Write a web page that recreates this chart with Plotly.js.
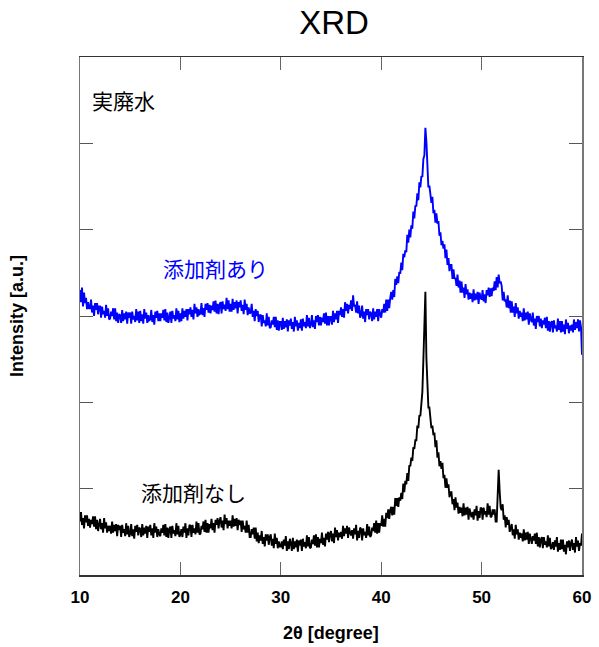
<!DOCTYPE html>
<html>
<head>
<meta charset="utf-8">
<script src="https://cdn.plot.ly/plotly-3.0.1.min.js"></script>
<style>html,body{margin:0;padding:0;background:#fff;}#chart{width:599px;height:647px;}</style>
</head>
<body>
<div id="chart"></div>
<script>
// 2θ grid: start and step (degrees)
const twoThetaStart = 10.0;
const twoThetaStep = 0.1;

// 添加剤あり (with additive), intensity [a.u.], one value per 0.1° (10.0 … 60.0)
const withAdditive = [
  3.30,3.16,3.33,3.11,3.27,3.15,3.21,3.08,3.16,3.09,
  3.09,3.19,3.04,3.12,3.00,3.15,3.07,3.15,3.02,3.11,
  3.11,2.98,3.11,3.02,3.06,2.98,3.13,3.00,3.09,2.96,
  2.97,3.05,3.00,3.09,2.96,3.09,2.94,3.04,2.92,3.02,
  3.01,2.92,3.07,2.94,3.03,2.96,3.05,2.91,3.04,2.98,
  3.04,2.91,3.05,2.96,3.00,2.93,3.08,2.95,3.05,2.92,
  3.06,2.94,3.02,2.91,3.08,2.97,3.04,2.92,3.01,2.95,
  2.96,3.07,2.93,3.01,2.90,3.05,2.98,3.06,2.94,3.03,
  2.94,3.03,2.98,3.07,2.95,3.08,2.93,3.04,2.92,3.02,
  3.05,2.92,3.06,2.97,3.01,2.94,3.09,2.96,3.06,2.93,
  3.03,2.94,3.09,2.97,3.06,2.99,3.08,2.95,3.08,3.02,
  3.10,2.99,3.07,2.96,3.14,3.03,3.10,2.99,3.08,3.02,
  3.03,3.15,3.01,3.09,2.99,3.14,3.07,3.15,3.04,3.13,
  3.03,3.12,3.07,3.17,3.05,3.18,3.03,3.14,3.02,3.13,
  3.16,3.03,3.17,3.08,3.13,3.06,3.21,3.08,3.18,3.05,
  3.14,3.05,3.20,3.07,3.16,3.09,3.18,3.03,3.16,3.10,
  3.18,3.06,3.13,3.02,3.19,3.07,3.14,3.01,3.10,3.03,
  3.04,3.14,2.99,3.06,2.94,3.08,3.00,3.06,2.93,3.01,
  3.01,2.88,3.01,2.92,2.95,2.88,3.03,2.89,2.99,2.86,
  2.87,2.95,2.90,2.99,2.87,2.99,2.84,2.95,2.83,2.93,
  2.93,2.84,2.98,2.85,2.94,2.87,2.96,2.82,2.95,2.89,
  2.97,2.85,2.93,2.82,2.99,2.88,2.95,2.83,2.92,2.86,
  2.96,2.83,2.97,2.88,2.93,2.86,3.01,2.88,2.98,2.86,
  2.90,3.01,2.87,2.95,2.85,3.00,2.93,3.01,2.89,2.99,
  2.89,2.98,2.93,3.03,2.91,3.04,2.89,3.00,2.89,2.99,
  2.99,2.90,3.06,2.93,3.03,2.96,3.06,2.92,3.06,3.01,
  3.10,2.99,3.08,2.98,3.16,3.06,3.14,3.03,3.13,3.08,
  3.18,3.06,3.24,3.11,3.13,3.04,3.17,3.03,3.12,2.98,
  3.01,3.12,2.97,3.05,2.93,3.08,3.01,3.08,2.96,3.05,
  3.03,2.94,3.09,2.96,3.05,2.99,3.08,2.94,3.08,3.02,
  2.98,3.08,3.04,3.14,3.04,3.19,3.06,3.19,3.09,3.21,
  3.28,3.19,3.30,3.22,3.43,3.36,3.46,3.38,3.51,3.49,
  3.62,3.53,3.72,3.68,3.76,3.74,3.94,3.85,4.00,3.91,
  4.05,4.01,4.21,4.13,4.28,4.27,4.42,4.34,4.55,4.49,
  4.62,4.61,4.82,4.86,5.18,5.02,4.77,4.49,4.51,4.36,
  4.31,4.38,4.19,4.23,4.08,4.19,4.07,4.10,3.93,3.97,
  3.82,3.87,3.78,3.83,3.67,3.77,3.59,3.67,3.52,3.59,
  3.59,3.43,3.54,3.43,3.44,3.35,3.48,3.33,3.41,3.27,
  3.40,3.27,3.33,3.21,3.37,3.25,3.31,3.19,3.27,3.20,
  3.26,3.16,3.31,3.18,3.26,3.19,3.28,3.14,3.27,3.21,
  3.19,3.30,3.17,3.25,3.15,3.30,3.24,3.33,3.22,3.32,
  3.23,3.33,3.29,3.40,3.30,3.45,3.33,3.48,3.38,3.40,
  3.35,3.18,3.28,3.17,3.19,3.10,3.24,3.09,3.18,3.04,
  3.17,3.04,3.11,2.99,3.15,3.03,3.10,2.97,3.06,2.99,
  3.04,2.94,3.09,2.95,3.04,2.96,3.05,2.90,3.03,2.96,
  2.93,3.04,2.89,2.97,2.85,3.00,2.93,3.00,2.88,2.97,
  2.86,2.95,2.90,2.98,2.86,2.99,2.83,2.94,2.82,2.92,
  2.94,2.81,2.95,2.86,2.89,2.82,2.97,2.84,2.94,2.81,
  2.94,2.82,2.90,2.79,2.96,2.85,2.92,2.80,2.89,2.83,
  2.90,2.81,2.96,2.84,2.93,2.86,2.96,2.82,2.95,2.87,
  2.55
];

// 添加剤なし (without additive), intensity [a.u.], one value per 0.1° (10.0 … 60.0)
const withoutAdditive = [
  0.62,0.73,0.58,0.66,0.54,0.69,0.61,0.69,0.57,0.65,
  0.55,0.64,0.59,0.68,0.56,0.68,0.53,0.64,0.51,0.61,
  0.65,0.53,0.60,0.49,0.66,0.54,0.61,0.49,0.57,0.51,
  0.57,0.48,0.62,0.49,0.58,0.51,0.59,0.45,0.58,0.52,
  0.57,0.44,0.58,0.49,0.53,0.45,0.60,0.47,0.57,0.44,
  0.48,0.59,0.45,0.53,0.42,0.57,0.50,0.58,0.46,0.55,
  0.53,0.44,0.59,0.46,0.55,0.48,0.57,0.43,0.56,0.50,
  0.58,0.46,0.54,0.43,0.60,0.49,0.56,0.44,0.53,0.47,
  0.45,0.54,0.49,0.58,0.46,0.59,0.44,0.55,0.43,0.53,
  0.56,0.43,0.57,0.48,0.52,0.45,0.60,0.47,0.57,0.44,
  0.47,0.53,0.44,0.56,0.49,0.60,0.43,0.54,0.46,0.58,
  0.57,0.44,0.58,0.49,0.54,0.47,0.62,0.49,0.60,0.47,
  0.48,0.57,0.53,0.62,0.50,0.64,0.49,0.60,0.49,0.59,
  0.54,0.65,0.52,0.60,0.49,0.64,0.58,0.66,0.54,0.63,
  0.67,0.55,0.63,0.52,0.70,0.59,0.66,0.54,0.63,0.57,
  0.63,0.54,0.69,0.56,0.65,0.57,0.66,0.52,0.64,0.58,
  0.63,0.50,0.63,0.53,0.57,0.49,0.63,0.49,0.58,0.44,
  0.44,0.53,0.47,0.55,0.42,0.55,0.39,0.49,0.37,0.46,
  0.40,0.51,0.36,0.44,0.33,0.47,0.40,0.47,0.35,0.44,
  0.47,0.34,0.42,0.31,0.48,0.36,0.43,0.31,0.39,0.33,
  0.33,0.39,0.30,0.41,0.34,0.45,0.28,0.39,0.30,0.42,
  0.37,0.28,0.43,0.30,0.39,0.32,0.41,0.27,0.40,0.34,
  0.41,0.28,0.42,0.33,0.38,0.31,0.46,0.33,0.44,0.31,
  0.32,0.41,0.36,0.46,0.34,0.47,0.32,0.44,0.32,0.42,
  0.37,0.49,0.35,0.43,0.33,0.48,0.41,0.50,0.38,0.48,
  0.51,0.39,0.48,0.37,0.55,0.44,0.52,0.40,0.49,0.44,
  0.50,0.42,0.57,0.45,0.54,0.48,0.57,0.43,0.55,0.49,
  0.46,0.52,0.42,0.54,0.47,0.58,0.40,0.51,0.43,0.55,
  0.53,0.40,0.54,0.46,0.50,0.43,0.59,0.46,0.56,0.44,
  0.46,0.55,0.51,0.60,0.49,0.63,0.48,0.60,0.49,0.60,
  0.57,0.69,0.56,0.65,0.56,0.72,0.66,0.76,0.65,0.75,
  0.79,0.69,0.79,0.70,0.89,0.80,0.89,0.79,0.90,0.86,
  0.95,0.88,1.06,0.96,1.09,1.05,1.18,1.09,1.27,1.26,
  1.36,1.32,1.48,1.46,1.56,1.56,1.73,1.70,1.85,1.84,
  2.03,2.12,2.49,2.88,3.28,2.52,2.19,1.94,1.94,1.79,
  1.70,1.73,1.62,1.65,1.48,1.56,1.36,1.42,1.26,1.32,
  1.23,1.30,1.12,1.16,1.01,1.12,1.01,1.05,0.90,0.96,
  0.96,0.82,0.88,0.75,0.90,0.78,0.84,0.71,0.79,0.72,
  0.78,0.68,0.83,0.69,0.78,0.70,0.79,0.64,0.77,0.71,
  0.67,0.73,0.64,0.76,0.69,0.80,0.63,0.74,0.66,0.78,
  0.77,0.64,0.78,0.70,0.74,0.67,0.83,0.70,0.80,0.67,
  0.68,0.76,0.70,0.76,0.62,0.62,0.85,1.22,0.97,0.78,
  0.75,0.82,0.64,0.69,0.55,0.67,0.58,0.64,0.50,0.57,
  0.59,0.46,0.53,0.42,0.58,0.47,0.53,0.41,0.49,0.43,
  0.48,0.39,0.53,0.40,0.49,0.41,0.50,0.36,0.48,0.42,
  0.36,0.45,0.40,0.48,0.36,0.49,0.33,0.44,0.32,0.41,
  0.44,0.31,0.44,0.35,0.39,0.32,0.46,0.33,0.43,0.30,
  0.32,0.38,0.29,0.40,0.33,0.44,0.27,0.37,0.29,0.41,
  0.30,0.41,0.27,0.35,0.24,0.39,0.32,0.40,0.28,0.37,
  0.41,0.29,0.37,0.26,0.44,0.33,0.40,0.28,0.37,0.34,
  0.48
];

const xTickVals = [10, 20, 30, 40, 50, 60];
const yTickVals = [0, 1, 2, 3, 4, 5, 6];

const traces = [
  {type:'scatter', mode:'lines', x0: twoThetaStart, dx: twoThetaStep, y: withAdditive,
   line:{color:'#0000FF', width:1.9}, hoverinfo:'skip', name:'添加剤あり'},
  {type:'scatter', mode:'lines', x0: twoThetaStart, dx: twoThetaStep, y: withoutAdditive,
   line:{color:'#000000', width:1.9}, hoverinfo:'skip', name:'添加剤なし'}
];

const cjk = '"Noto Sans CJK JP", "Noto Sans", sans-serif';
const sans = '"Liberation Sans", Arial, sans-serif';

const layout = {
  width: 599, height: 647,
  margin: {l: 80, r: 17, t: 57, b: 72},
  paper_bgcolor: '#fff', plot_bgcolor: '#fff',
  showlegend: false,
  title: {text: 'XRD', font:{family: sans, size: 33, color:'#000'},
          x: 0.506, xanchor:'center', xref:'paper', y: 0.966, yref:'container', yanchor:'middle'},
  xaxis: {range:[10, 60], tickvals: xTickVals, ticktext: xTickVals.map(String),
          ticks:'inside', ticklen: 13, tickwidth: 1, tickcolor:'#666',
          showline: true, linecolor:'#333', linewidth: 1.5, mirror:'ticks',
          showgrid:false, zeroline:false, ticklabelstandoff: 6,
          tickfont:{family: sans, size: 17, color:'#000', weight:'bold'},
          title:{text:'2θ [degree]', font:{family: sans, size: 18, color:'#000', weight:'bold'}, standoff: 20}},
  yaxis: {range:[0, 6], tickvals: yTickVals, showticklabels:false,
          ticks:'inside', ticklen: 13, tickwidth: 1, tickcolor:'#555',
          showline: true, linecolor:'#777', linewidth: 1.5, mirror:'ticks',
          showgrid:false, zeroline:false,
          title:{text:'Intensity [a.u.]', font:{family: sans, size: 18, color:'#000', weight:'bold'}, standoff: 50}},
  annotations: [
    {text:'実廃水', x: 10.95, y: 5.50, xref:'x', yref:'y', xanchor:'left', yanchor:'middle', showarrow:false,
     font:{family: cjk, size: 21, color:'#000'}},
    {text:'添加剤あり', x: 18.1, y: 3.56, xref:'x', yref:'y', xanchor:'left', yanchor:'middle', showarrow:false,
     font:{family: cjk, size: 21, color:'#0000FF'}},
    {text:'添加剤なし', x: 15.9, y: 0.96, xref:'x', yref:'y', xanchor:'left', yanchor:'middle', showarrow:false,
     font:{family: cjk, size: 21, color:'#000'}}
  ]
};

Plotly.newPlot('chart', traces, layout, {staticPlot: true, displayModeBar: false});
</script>
</body>
</html>
